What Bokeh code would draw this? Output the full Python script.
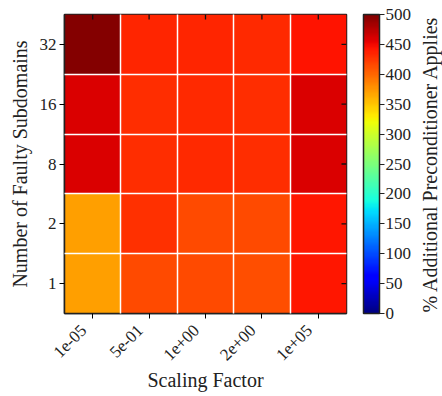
import numpy as np
from bokeh.plotting import figure
from bokeh.layouts import row
from bokeh.models import (Range1d, FixedTicker, LinearColorMapper, ColorBar,
                          ColumnDataSource)
from bokeh.embed import file_html
from bokeh.resources import INLINE

# ---- data ----
x_labels = ["1e-05", "5e-01", "1e+00", "2e+00", "1e+05"]
y_labels = ["1", "2", "8", "16", "32"]
row_1 = [370, 415, 415, 414, 442]
row_2 = [370, 428, 415, 415, 442]
row_8 = [460, 430, 432, 430, 460]
row_16 = [460, 430, 432, 430, 460]
row_32 = [498, 434, 434, 432, 444]
rows = [row_1, row_2, row_8, row_16, row_32]
cbar_ticks = [0, 50, 100, 150, 200, 250, 300, 350, 400, 450, 500]
vmin, vmax = 0, 500
cbar_title = "% Additional Preconditioner Applies"

# ---- jet palette ----
def jet(n=256):
    segs = {
        'r': [(0, 0), (0.35, 0), (0.66, 1), (0.89, 1), (1, 0.5)],
        'g': [(0, 0), (0.125, 0), (0.375, 1), (0.64, 1), (0.91, 0), (1, 0)],
        'b': [(0, 0.5), (0.11, 1), (0.34, 1), (0.65, 0), (1, 0)],
    }
    t = np.linspace(0, 1, n)
    ch = {}
    for k, s in segs.items():
        xs, ys = zip(*s)
        ch[k] = np.interp(t, xs, ys)
    return ["#%02x%02x%02x" % (int(round(r * 255)), int(round(g * 255)), int(round(b * 255)))
            for r, g, b in zip(ch['r'], ch['g'], ch['b'])]

mapper = LinearColorMapper(palette=jet(256), low=vmin, high=vmax)

xs, ys, vals = [], [], []
for j, rw in enumerate(rows):
    for i, v in enumerate(rw):
        xs.append(i + 0.5)
        ys.append(j + 0.5)
        vals.append(v)
src = ColumnDataSource(dict(x=xs, y=ys, v=vals))

FONT = "Liberation Serif"
TXT = "#222222"
FW, FH = 282, 299
TICK = 5
nx, ny = len(x_labels), len(y_labels)

p = figure(frame_width=FW, frame_height=FH,
           x_range=Range1d(0, nx), y_range=Range1d(0, ny),
           output_backend="svg", toolbar_location=None,
           min_border_left=64, min_border_top=14, min_border_bottom=83,
           min_border_right=60)
p.rect(x="x", y="y", width=1, height=1, source=src,
       fill_color={"field": "v", "transform": mapper}, line_color=None)

xt = [i + 0.5 for i in range(nx)]
yt = [j + 0.5 for j in range(ny)]

for g, n in ((p.xgrid[0], nx), (p.ygrid[0], ny)):
    g.ticker = FixedTicker(ticks=list(range(1, n)))
    g.grid_line_color = "white"
    g.grid_line_width = 1.5
    g.level = "overlay"

p.outline_line_color = TXT
p.outline_line_width = 1.5
p.outline_line_alpha = 1

# inner mirrored ticks (top and right)
dy = TICK * ny / FH
dx = TICK * nx / FW
tick_src_top = ColumnDataSource(dict(x0=xt, y0=[ny] * nx, x1=xt, y1=[ny - dy] * nx))
tick_src_right = ColumnDataSource(dict(x0=[nx] * ny, y0=yt, x1=[nx - dx] * ny, y1=yt))
p.segment(x0="x0", y0="y0", x1="x1", y1="y1", source=tick_src_top,
          line_color="#111111", line_width=1.3)
p.segment(x0="x0", y0="y0", x1="x1", y1="y1", source=tick_src_right,
          line_color="#111111", line_width=1.3)

NB = "\u00a0"
ax = p.xaxis[0]
ax.ticker = FixedTicker(ticks=xt)
ax.major_label_overrides = {t: l + NB * 3 for t, l in zip(xt, x_labels)}
ax.major_label_orientation = np.pi / 4
ax.axis_label = "Scaling Factor"
ay = p.yaxis[0]
ay.ticker = FixedTicker(ticks=yt)
ay.major_label_overrides = {t: l for t, l in zip(yt, y_labels)}
ay.axis_label = "Number of Faulty Subdomains"
for a in (ax, ay):
    a.major_label_text_font = FONT
    a.major_label_text_font_size = "17px"
    a.major_label_text_color = TXT
    a.axis_label_text_font = FONT
    a.axis_label_text_font_size = "20px"
    a.axis_label_text_font_style = "normal"
    a.axis_label_text_color = TXT
    a.minor_tick_line_color = None
    a.major_tick_out = TICK
    a.major_tick_in = 0
    a.axis_line_color = TXT
    a.axis_line_width = 1.5
    a.major_tick_line_width = 1
    a.major_label_standoff = 3
ax.major_label_standoff = 0
ay.axis_label_standoff = 6
ax.axis_label_standoff = -5

cb = ColorBar(color_mapper=mapper, ticker=FixedTicker(ticks=cbar_ticks),
              width=16, height=FH, padding=0, margin=0, location=(17, 0),
              major_tick_in=0, major_tick_out=TICK, major_tick_line_color=TXT,
              minor_tick_line_color=None, bar_line_color=TXT, bar_line_width=1.5,
              border_line_color=None, background_fill_color=None,
              label_standoff=1, major_label_text_font=FONT,
              major_label_text_font_size="17px", major_label_text_color=TXT)
p.add_layout(cb, "right")

# colorbar title: a slim figure whose left-side title reads bottom to top
p2 = figure(frame_width=2, frame_height=FH, output_backend="svg",
            toolbar_location=None, title=cbar_title, title_location="left",
            min_border_left=0, min_border_right=0, min_border_top=14,
            min_border_bottom=83, x_range=Range1d(0, 1), y_range=Range1d(0, 1))
p2.axis.visible = False
p2.grid.visible = False
p2.outline_line_color = None
p2.background_fill_color = None
p2.border_fill_color = None
p2.title.align = "center"
p2.title.standoff = 4
p2.title.text_font = FONT
p2.title.text_font_size = "20px"
p2.title.text_font_style = "normal"
p2.title.text_color = TXT

layout = row(p, p2, spacing=0)
open("out.html", "w").write(file_html(layout, INLINE))
